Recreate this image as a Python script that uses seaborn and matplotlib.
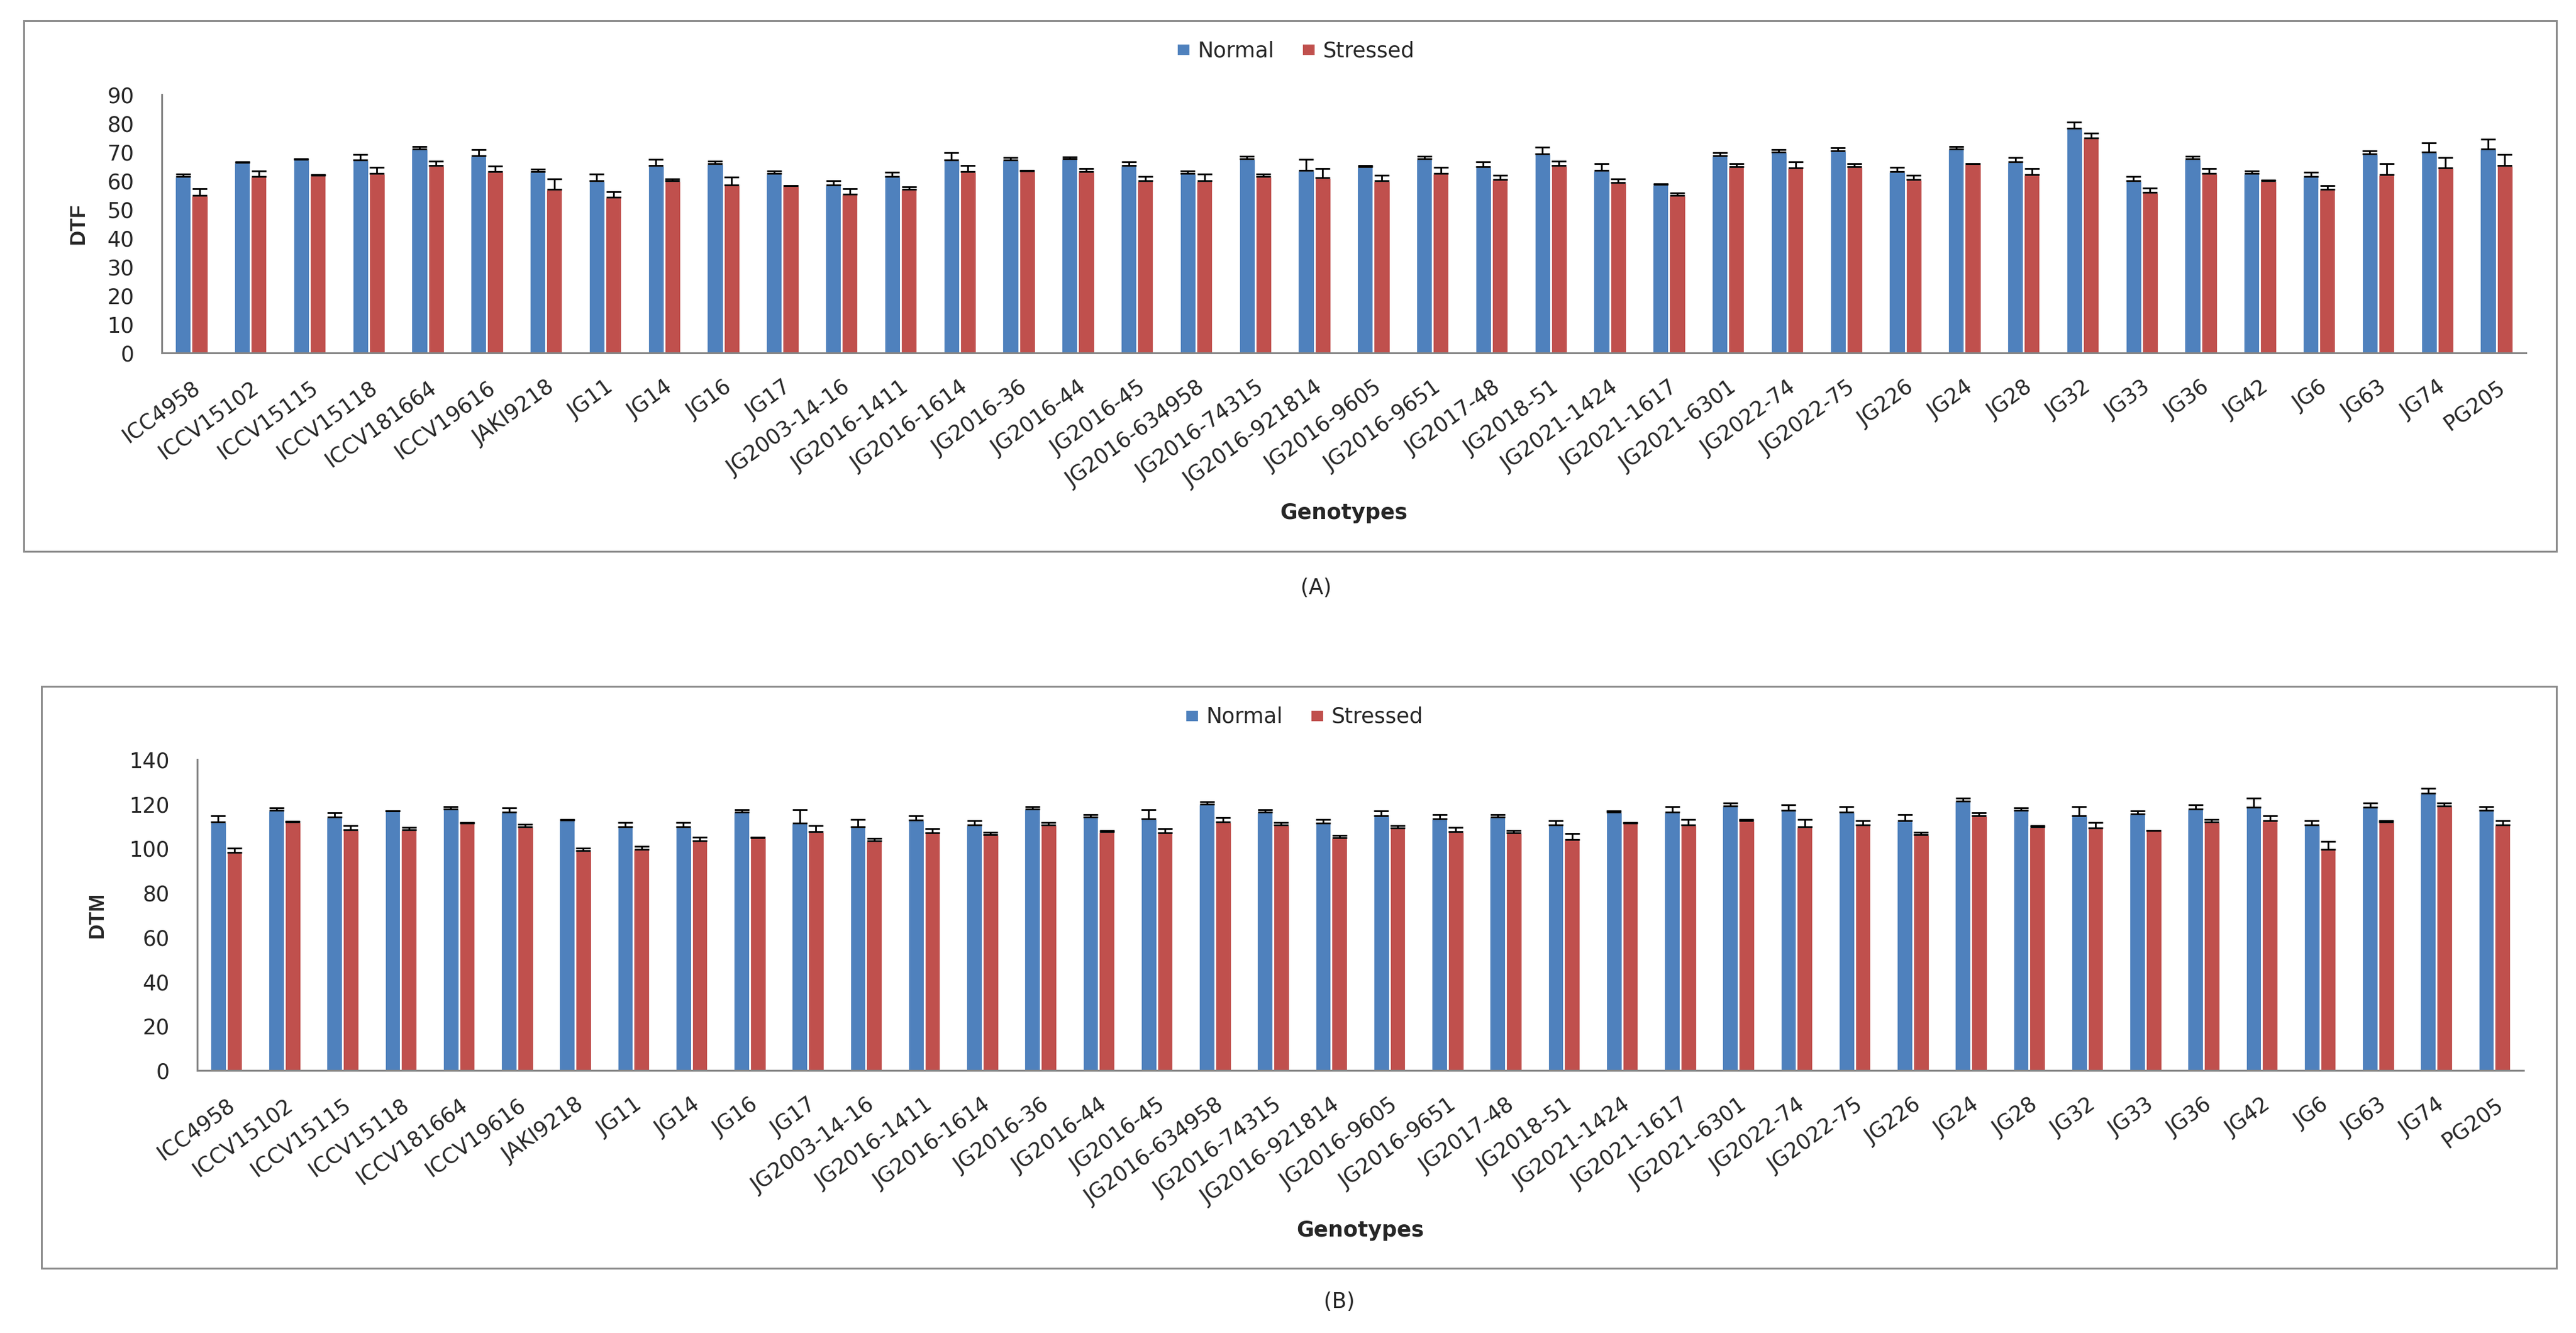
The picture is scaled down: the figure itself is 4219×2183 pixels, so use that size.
"""
DTF / DTM of 40 chickpea genotypes under normal and stressed conditions.
Two stacked panels, Excel-like clustered bars with upper error bars.
"""

import numpy as np
import pandas as pd
import matplotlib
matplotlib.use("Agg")
import matplotlib.pyplot as plt
import seaborn as sns
from matplotlib.patches import Rectangle

GENOTYPES = [
    "ICC4958", "ICCV15102", "ICCV15115", "ICCV15118", "ICCV181664",
    "ICCV19616", "JAKI9218", "JG11", "JG14", "JG16", "JG17",
    "JG2003-14-16", "JG2016-1411", "JG2016-1614", "JG2016-36",
    "JG2016-44", "JG2016-45", "JG2016-634958", "JG2016-74315",
    "JG2016-921814", "JG2016-9605", "JG2016-9651", "JG2017-48",
    "JG2018-51", "JG2021-1424", "JG2021-1617", "JG2021-6301",
    "JG2022-74", "JG2022-75", "JG226", "JG24", "JG28", "JG32", "JG33",
    "JG36", "JG42", "JG6", "JG63", "JG74", "PG205",
]
CONDITIONS = ["Normal", "Stressed"]

# Days to flowering
DTF_NORMAL = [61.5, 66.4, 67.5, 67.2, 71.0, 68.8, 63.2, 59.9, 65.4, 66.0,
              62.6, 58.6, 61.5, 67.2, 67.2, 67.7, 65.4, 62.6, 67.7, 63.7,
              64.9, 67.7, 64.9, 69.4, 63.7, 58.7, 68.8, 69.9, 70.5, 63.2,
              71.0, 66.6, 78.3, 59.9, 67.7, 62.6, 61.5, 69.4, 69.9, 71.0]
DTF_NORMAL_SE = [0.9, 0.1, 0.1, 2.0, 1.0, 2.0, 0.9, 2.4, 2.1, 0.9,
                 0.9, 1.5, 1.5, 2.6, 0.9, 0.5, 1.1, 0.9, 0.9, 3.8,
                 0.4, 0.9, 1.6, 2.2, 2.2, 0.3, 1.0, 0.9, 1.0, 1.4,
                 1.0, 1.5, 2.2, 1.5, 0.9, 0.9, 1.5, 1.0, 3.3, 3.4]
DTF_STRESSED = [54.8, 61.5, 61.9, 62.6, 65.4, 63.2, 57.0, 54.2, 59.9, 58.6,
                58.2, 55.3, 57.0, 63.2, 63.5, 63.2, 59.9, 59.9, 61.5, 61.0,
                59.9, 62.6, 60.4, 65.4, 59.3, 54.8, 64.8, 64.4, 64.8, 60.4,
                65.9, 62.1, 75.0, 55.9, 62.6, 60.1, 57.0, 62.1, 64.4, 65.4]
DTF_STRESSED_SE = [2.5, 2.0, 0.2, 2.0, 1.5, 2.0, 3.7, 2.0, 0.8, 2.7,
                   0.2, 2.0, 0.9, 2.1, 0.1, 1.0, 1.5, 2.5, 0.8, 3.2,
                   2.1, 2.0, 1.6, 1.5, 1.4, 0.9, 1.1, 2.1, 1.1, 1.6,
                   0.1, 2.1, 1.6, 1.5, 1.6, 0.1, 1.4, 3.8, 3.7, 3.8]

# Days to maturity
DTM_NORMAL = [112.0, 117.1, 114.1, 116.8, 117.8, 116.3, 112.8, 109.8, 109.8, 116.3,
              111.3, 109.8, 112.8, 110.6, 117.8, 114.1, 113.4, 119.9, 116.3, 111.3,
              114.8, 113.4, 114.1, 110.6, 116.3, 116.3, 119.1, 117.1, 116.3, 112.6,
              121.3, 117.1, 114.8, 115.6, 117.8, 118.5, 110.6, 118.5, 124.9, 117.1]
DTM_NORMAL_SE = [2.7, 1.3, 2.0, 0.2, 1.1, 2.0, 0.3, 2.0, 2.0, 1.1,
                 6.1, 3.3, 1.9, 1.8, 1.1, 1.2, 4.0, 1.2, 1.1, 1.8,
                 2.0, 1.9, 1.2, 1.8, 0.5, 2.6, 1.3, 2.5, 2.6, 2.7,
                 1.3, 1.1, 4.1, 1.2, 1.8, 4.1, 1.8, 1.9, 2.1, 1.8]
DTM_STRESSED = [98.2, 111.9, 108.3, 108.3, 111.3, 109.8, 99.0, 99.6, 103.3, 104.7,
                107.6, 103.3, 106.9, 106.1, 110.6, 107.6, 106.9, 112.0, 110.6, 104.8,
                109.1, 107.6, 106.9, 104.0, 111.3, 110.6, 112.6, 109.8, 110.6, 106.1,
                114.8, 109.8, 109.1, 108.1, 112.0, 112.6, 99.6, 112.0, 119.1, 110.6]
DTM_STRESSED_SE = [1.9, 0.3, 2.0, 1.3, 0.5, 1.1, 1.1, 1.3, 1.9, 0.5,
                   2.6, 1.2, 1.9, 1.3, 1.1, 0.5, 1.9, 1.9, 1.1, 1.1,
                   1.1, 2.0, 1.2, 2.6, 0.5, 2.5, 0.5, 3.3, 1.8, 1.3,
                   1.3, 0.4, 2.6, 0.1, 1.1, 2.0, 3.5, 0.5, 1.3, 1.8]

DTF_TICKS = list(range(0, 91, 10))
DTM_TICKS = list(range(0, 141, 20))

BLUE, RED, GREY = "#4F81BD", "#C0504D", "#868686"
W, H, DPI = 4219, 2183, 200
FS = 12.5


def fx(px):
    return px / W


def fy(py):
    return 1 - py / H


def draw_panel(ax, trait, normal, normal_se, stressed, stressed_se,
               yticks, ylabel_x, xlabel_y, legend_xy):
    df = pd.DataFrame({
        "Genotype": GENOTYPES * 2,
        "Condition": ["Normal"] * len(GENOTYPES) + ["Stressed"] * len(GENOTYPES),
        trait: list(normal) + list(stressed),
    })
    sns.barplot(data=df, x="Genotype", y=trait, hue="Condition",
                order=GENOTYPES, hue_order=CONDITIONS,
                palette=[BLUE, RED], saturation=1, width=0.56,
                errorbar=None, ax=ax)

    # upper-only error bars, on the bars seaborn placed
    for cont, se in zip(ax.containers, [normal_se, stressed_se]):
        xs = [p.get_x() + p.get_width() / 2 for p in cont]
        hs = [p.get_height() for p in cont]
        ax.errorbar(xs, hs, yerr=[np.zeros(len(se)), se], fmt="none",
                    ecolor="black", elinewidth=1.0, capsize=4.3,
                    capthick=1.0, zorder=3)

    ax.set_ylim(yticks[0], yticks[-1])
    ax.set_yticks(yticks)
    ax.set_xlim(-0.5, len(GENOTYPES) - 0.5)
    ax.set_xticks(np.arange(-0.5, len(GENOTYPES), 1), minor=True)

    sns.despine(ax=ax)
    for side in ["left", "bottom"]:
        ax.spines[side].set_color(GREY)
        ax.spines[side].set_linewidth(1.1)

    ax.tick_params(axis="y", which="major", direction="out", length=5.8,
                   width=1.1, color=GREY, pad=10.5, labelsize=FS)
    ax.tick_params(axis="x", which="major", length=0, pad=14, labelsize=FS)
    ax.tick_params(axis="x", which="minor", direction="out", length=3.6,
                   width=1.1, color=GREY)
    plt.setp(ax.get_xticklabels(), rotation=36, ha="right", va="top",
             rotation_mode="anchor")

    ax.set_ylabel(trait, fontsize=FS, fontweight="bold",
                  family="Liberation Sans")
    ax.yaxis.set_label_coords(ylabel_x, 0.5)
    ax.yaxis.label.set_va("center")
    ax.set_xlabel("Genotypes", fontsize=FS, fontweight="bold")
    ax.xaxis.set_label_coords(0.5, xlabel_y)
    ax.xaxis.label.set_va("center")

    sns.move_legend(ax, "center", bbox_to_anchor=legend_xy,
                    bbox_transform=ax.figure.transFigure, ncol=2,
                    frameon=False, title=None, fontsize=FS,
                    handlelength=0.63, handleheight=0.5,
                    handletextpad=0.35, columnspacing=1.3)


sns.set_style("white")
plt.rcParams["font.family"] = ["DejaVu Sans"]

fig = plt.figure(figsize=(W / DPI, H / DPI), dpi=DPI)

# chart-area frames
fig.patches.append(Rectangle((fx(39), fy(903)), fx(4187 - 39), (903 - 34) / H,
                             transform=fig.transFigure, fill=False,
                             ec="#8c8c8c", lw=1.1))
fig.patches.append(Rectangle((fx(68), fy(2077)), fx(4187 - 68), (2077 - 1124) / H,
                             transform=fig.transFigure, fill=False,
                             ec="#8c8c8c", lw=1.1))

ax_a = fig.add_axes([fx(265), fy(578), fx(4137 - 265), (578 - 155) / H])
draw_panel(ax_a, "DTF", DTF_NORMAL, DTF_NORMAL_SE, DTF_STRESSED,
           DTF_STRESSED_SE, DTF_TICKS, ylabel_x=(128 - 265) / 3872,
           xlabel_y=(578 - 840) / 423, legend_xy=(fx(2122), fy(83)))

ax_b = fig.add_axes([fx(323), fy(1753), fx(4133 - 323), (1753 - 1244) / H])
draw_panel(ax_b, "DTM", DTM_NORMAL, DTM_NORMAL_SE, DTM_STRESSED,
           DTM_STRESSED_SE, DTM_TICKS, ylabel_x=(159 - 323) / 3810,
           xlabel_y=(1753 - 2015) / 509, legend_xy=(fx(2136), fy(1174)))

fig.text(fx(2155), fy(963), "(A)", ha="center", va="center", fontsize=FS)
fig.text(fx(2193), fy(2132), "(B)", ha="center", va="center", fontsize=FS)

fig.savefig("out.png", dpi=DPI, facecolor="white")
plt.close(fig)
print("saved -> out.png")
